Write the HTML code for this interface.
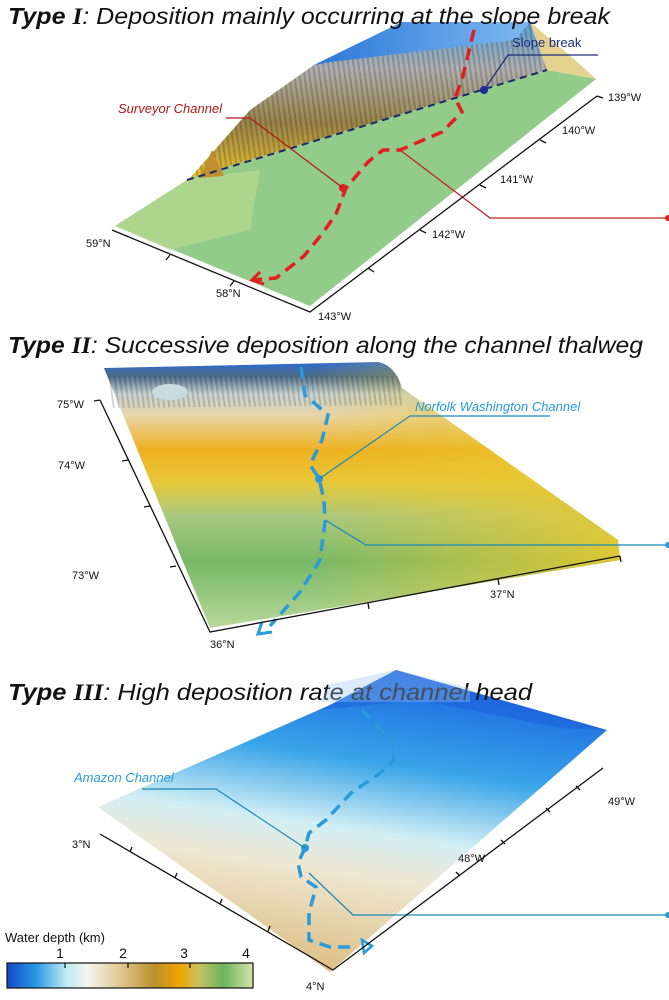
<!DOCTYPE html>
<html><head><meta charset="utf-8">
<style>
html,body{margin:0;padding:0;background:#fff;}
svg{display:block;font-family:"Liberation Sans",Arial,sans-serif;}
.t{font-size:23px;font-style:italic;fill:#111;}
.ax{font-size:11px;fill:#111;}
</style></head>
<body>
<svg width="669" height="1000" viewBox="0 0 669 1000">
<defs>
 <linearGradient id="cb" x1="0" x2="1" y1="0" y2="0">
  <stop offset="0" stop-color="#1248c8"/><stop offset="0.12" stop-color="#2a9ae6"/>
  <stop offset="0.24" stop-color="#bfeaf4"/><stop offset="0.33" stop-color="#f4f4ee"/>
  <stop offset="0.47" stop-color="#e0c28a"/><stop offset="0.6" stop-color="#b8902c"/>
  <stop offset="0.7" stop-color="#f0a400"/><stop offset="0.78" stop-color="#c8c060"/>
  <stop offset="0.88" stop-color="#6ab45c"/><stop offset="1" stop-color="#d4e6a8"/>
 </linearGradient>
 <linearGradient id="cliff1" x1="0" x2="0" y1="0" y2="1">
  <stop offset="0" stop-color="#5aa0d8"/><stop offset="0.3" stop-color="#b0b0b0"/>
  <stop offset="0.65" stop-color="#9a8448"/><stop offset="1" stop-color="#e8c030"/>
 </linearGradient>
 <linearGradient id="plat1" x1="0" x2="1" y1="0" y2="0">
  <stop offset="0" stop-color="#2a78d8"/><stop offset="1" stop-color="#80b8f0"/>
 </linearGradient>
 <pattern id="stripes" width="5" height="10" patternUnits="userSpaceOnUse" patternTransform="rotate(-8)">
  <rect width="2" height="10" fill="#000" opacity="0.18"/>
 </pattern>
 <linearGradient id="p2" x1="0" x2="0" y1="0" y2="1">
  <stop offset="0" stop-color="#2a6ad8"/><stop offset="0.05" stop-color="#4a6a88"/>
  <stop offset="0.12" stop-color="#c8d4d4"/><stop offset="0.2" stop-color="#e8d4a8"/>
  <stop offset="0.33" stop-color="#eeb020"/><stop offset="0.45" stop-color="#e8c838"/>
  <stop offset="0.58" stop-color="#a8c880"/><stop offset="0.75" stop-color="#78b868"/>
  <stop offset="1" stop-color="#b8d898"/>
 </linearGradient>
 <linearGradient id="p2r" x1="0" x2="1" y1="0" y2="0">
  <stop offset="0.4" stop-color="#e8c830" stop-opacity="0"/><stop offset="1" stop-color="#e8c830" stop-opacity="0.9"/>
 </linearGradient>
 <linearGradient id="p3" x1="0.6" x2="0.35" y1="0" y2="1">
  <stop offset="0" stop-color="#1060e0"/><stop offset="0.3" stop-color="#30a0e8"/>
  <stop offset="0.52" stop-color="#d0eef4"/><stop offset="0.66" stop-color="#eee6d0"/>
  <stop offset="1" stop-color="#d8b878"/>
 </linearGradient>
</defs>

<!-- PANEL 1 -->
<g>
 <polygon points="115,226 190,178 547,70 596,79 310,306" fill="#93cc8a"/>
 <polygon points="115,226 190,178 260,170 250,230 170,250" fill="#b8d890" opacity="0.7"/>
 <polygon points="190,178 250,110 314,65 402,22 530,22 547,70" fill="url(#cliff1)"/>
 <polygon points="190,178 250,110 314,65 402,22 530,22 547,70" fill="url(#stripes)"/>
 <polygon points="314,65 402,22 530,22 515,40 330,62" fill="url(#plat1)"/>
 <polygon points="200,178 212,150 224,176" fill="#c09030"/>
 <polygon points="530,22 547,70 596,79 575,60" fill="#d8c060" opacity="0.7"/>
</g>
<text x="8" y="24" class="t" textLength="602" lengthAdjust="spacingAndGlyphs"><tspan font-weight="bold">Type</tspan> <tspan font-family="Liberation Serif" font-weight="bold">I</tspan>: Deposition mainly occurring at the slope break</text>
<polyline points="187,180 547,70" fill="none" stroke="#1a2a6a" stroke-width="2" stroke-dasharray="7,5"/>
<polyline points="474,30 462,80 455,98 462,112 442,132 400,150 383,150 368,162 346,188 336,214 322,234 304,256 276,278 252,280" fill="none" stroke="#e02020" stroke-width="3.5" stroke-dasharray="12,7"/>
<polyline points="260,272 252,280 264,284" fill="none" stroke="#e02020" stroke-width="3"/>
<circle cx="343" cy="188" r="4" fill="#e02020"/>
<text x="118" y="113" font-size="13" font-style="italic" fill="#b01818">Surveyor Channel</text>
<polyline points="226,118 250,118 343,188" fill="none" stroke="#b01818" stroke-width="1.2"/>
<polyline points="400,150 490,218 669,218" fill="none" stroke="#c02020" stroke-width="1.3"/>
<circle cx="668" cy="218" r="3" fill="#e02020"/>
<text x="512" y="47" font-size="13" fill="#1a2a7a">Slope break</text>
<polyline points="484,90 508,55 598,55" fill="none" stroke="#1a2a7a" stroke-width="1.2"/>
<circle cx="484" cy="90" r="4" fill="#1a2aa0"/>
<g stroke="#111" stroke-width="1.3" fill="none">
 <polyline points="112,230 310,312 597,96"/>
 <line x1="170" y1="255" x2="166" y2="260"/><line x1="234" y1="281" x2="230" y2="286"/>
 <line x1="368" y1="268" x2="374" y2="272"/><line x1="420" y1="230" x2="426" y2="233"/>
 <line x1="480" y1="185" x2="486" y2="188"/><line x1="540" y1="140" x2="546" y2="143"/>
 <line x1="597" y1="96" x2="603" y2="98"/>
</g>
<g class="ax">
 <text x="86" y="247">59°N</text><text x="216" y="297">58°N</text><text x="318" y="320">143°W</text>
 <text x="432" y="238">142°W</text><text x="500" y="183">141°W</text><text x="562" y="134">140°W</text><text x="608" y="101">139°W</text>
</g>

<!-- PANEL 2 -->
<text x="8" y="353" class="t" textLength="635" lengthAdjust="spacingAndGlyphs"><tspan font-weight="bold">Type</tspan> <tspan font-family="Liberation Serif" font-weight="bold">II</tspan>: Successive deposition along the channel thalweg</text>
<g>
 <path d="M104,368 L378,362 Q395,365 402,388 L618,540 L620,560 L210,628 Z" fill="url(#p2)"/>
 <path d="M104,368 L378,362 Q395,365 402,388 L618,540 L620,560 L210,628 Z" fill="url(#p2r)"/>
 <path d="M106,376 L400,376 L405,405 L112,408 Z" fill="url(#stripes)" opacity="0.9"/>
 <ellipse cx="170" cy="392" rx="18" ry="8" fill="#c8dce0"/>
</g>
<polyline points="301,367 305,395 328,415 322,440 310,465 319,478 324,500 325,522 320,560 300,592 270,626" fill="none" stroke="#2a9ad8" stroke-width="3.5" stroke-dasharray="12,7"/>
<polyline points="262,622 258,634 272,632" fill="none" stroke="#2a9ad8" stroke-width="3"/>
<circle cx="319" cy="479" r="4" fill="#2a9ad8"/>
<text x="415" y="411" font-size="13" font-style="italic" fill="#2a9ad8">Norfolk Washington Channel</text>
<polyline points="550,416 410,416 319,479" fill="none" stroke="#1a8ab8" stroke-width="1.2"/>
<polyline points="325,520 366,545 669,545" fill="none" stroke="#1a8ab8" stroke-width="1.3"/>
<circle cx="668" cy="545" r="3" fill="#2a9ad8"/>
<g stroke="#111" stroke-width="1.3" fill="none">
 <polyline points="100,400 210,632 620,556"/>
 <line x1="100" y1="400" x2="94" y2="401"/><line x1="128" y1="460" x2="122" y2="461"/>
 <line x1="150" y1="506" x2="144" y2="507"/><line x1="176" y1="566" x2="170" y2="567"/>
 <line x1="368" y1="603" x2="369" y2="609"/><line x1="498" y1="579" x2="499" y2="585"/>
 <line x1="620" y1="556" x2="621" y2="562"/>
</g>
<g class="ax">
 <text x="57" y="408">75°W</text><text x="58" y="469">74°W</text><text x="72" y="579">73°W</text>
 <text x="210" y="648">36°N</text><text x="490" y="598">37°N</text>
</g>

<!-- PANEL 3 -->
<g>
 <polygon points="98,807 330,705 396,670 607,730 330,972" fill="url(#p3)" opacity="0.96"/>
 <polygon points="320,710 396,670 607,730 560,728 420,700" fill="#1a5ad8" opacity="0.45"/>
</g>
<text x="8" y="700" class="t" textLength="524" lengthAdjust="spacingAndGlyphs"><tspan font-weight="bold">Type</tspan> <tspan font-family="Liberation Serif" font-weight="bold">III</tspan>:  High deposition rate at channel head</text>
<polygon points="330,684 396,670 470,688 470,702 320,702" fill="#9cc4f0" opacity="0.35"/>
<polyline points="362,710 391,740 394,760 380,773 351,793 326,820 309,833 305,848 298,863 301,877 316,887 309,913 309,940 330,947 350,947" fill="none" stroke="#2a9ad8" stroke-width="3.5" stroke-dasharray="12,7"/>
<polygon points="362,940 372,946 364,953" fill="none" stroke="#2a9ad8" stroke-width="2.5"/>
<circle cx="305" cy="848" r="4" fill="#2a9ad8"/>
<text x="74" y="782" font-size="13" font-style="italic" fill="#2a9ad8">Amazon Channel</text>
<polyline points="142,789 216,789 305,848" fill="none" stroke="#1a8ab8" stroke-width="1.2"/>
<polyline points="309,873 353,915 669,915" fill="none" stroke="#1a8ab8" stroke-width="1.3"/>
<circle cx="668" cy="915" r="3" fill="#2a9ad8"/>
<g stroke="#111" stroke-width="1.3" fill="none">
 <polyline points="100,834 333,970 603,768"/>
 <line x1="130" y1="852" x2="132" y2="847"/><line x1="175" y1="878" x2="177" y2="873"/>
 <line x1="220" y1="904" x2="222" y2="899"/><line x1="268" y1="931" x2="270" y2="926"/>
 <line x1="460" y1="876" x2="456" y2="872"/><line x1="505" y1="844" x2="501" y2="840"/>
 <line x1="550" y1="812" x2="546" y2="808"/><line x1="580" y1="790" x2="576" y2="786"/>
</g>
<g class="ax">
 <text x="72" y="848">3°N</text><text x="306" y="990">4°N</text>
 <text x="458" y="862">48°W</text><text x="608" y="805">49°W</text>
</g>

<!-- COLOR BAR -->
<text x="5" y="942" font-size="13" fill="#111">Water depth (km)</text>
<rect x="7" y="963" width="246" height="25" fill="url(#cb)" stroke="#111" stroke-width="1.2"/>
<g stroke="#111" stroke-width="1.2">
 <line x1="65" y1="963" x2="65" y2="968"/><line x1="128" y1="963" x2="128" y2="968"/><line x1="190" y1="963" x2="190" y2="968"/>
</g>
<g font-size="14" fill="#111" text-anchor="middle">
 <text x="60" y="958">1</text><text x="123" y="958">2</text><text x="184" y="958">3</text><text x="246" y="958">4</text>
</g>
</svg>
</body></html>
